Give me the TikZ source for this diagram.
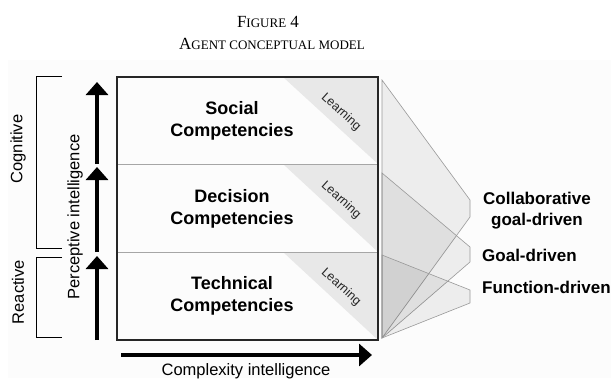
\documentclass[tikz,border=0pt]{standalone}
\usepackage{fontspec}
\setmainfont{Liberation Serif}
\setsansfont{Liberation Sans}
\usetikzlibrary{arrows.meta,positioning}

\begin{document}
\begin{tikzpicture}[x=1pt,y=-1pt,
  lbl/.style={font=\sffamily\bfseries\fontsize{18}{22}\selectfont, align=center, inner sep=0},
  lrn/.style={font=\sffamily\fontsize{12.5}{14}\selectfont, rotate=-42, text=black!85, inner sep=0},
  big/.style={line width=4pt, -{Triangle[width=22pt,length=13pt]}},
  side/.style={font=\sffamily\fontsize{16.5}{18}\selectfont, inner sep=0},
  cone/.style={draw=gray!80, line width=0.6pt, fill=black, fill opacity=0.06},
  drv/.style={font=\sffamily\bfseries\fontsize{17}{21}\selectfont, align=center, inner sep=0}]
\useasboundingbox (0,0) rectangle (611,378);
\fill[black!1.2] (8,60) rectangle (611,378);

% title
\node[font=\fontsize{17}{20}\selectfont, anchor=base] (fig) at (268,27) {F{\fontsize{13}{15}\selectfont IGURE} 4};
\node[font=\fontsize{17}{20}\selectfont, anchor=base] (ttl) at (272,49) {A{\fontsize{13}{15}\selectfont GENT CONCEPTUAL MODEL}};

% learning corners
\fill[black!9] (283,77) -- (378,77) -- (378,164) -- cycle;
\fill[black!9] (283,164) -- (378,164) -- (378,252) -- cycle;
\fill[black!9] (283,252) -- (378,252) -- (378,340) -- cycle;
\node[lrn] (l1) at (341,112) {Learning};
\node[lrn] (l2) at (341,200) {Learning};
\node[lrn] (l3) at (341,287) {Learning};

% competency bands
\draw[gray!70, line width=0.8pt] (117,164) -- (378,164) (117,252) -- (378,252);
\draw[line width=1.6pt, black!85] (117,77) rectangle (378,340);
\node[lbl] (soc) at (232,121) {Social\\Competencies};
\node[lbl] (dec) at (232,209) {Decision\\Competencies};
\node[lbl] (tec) at (232,296) {Technical\\Competencies};

% perceptive axis
\coordinate (a0) at (97,340); \coordinate (a1) at (97,256);
\coordinate (b0) at (97,252); \coordinate (b1) at (97,167);
\coordinate (c0) at (97,164); \coordinate (c1) at (97,82);
\draw[big] (a0) -- (a1);
\draw[big] (b0) -- (b1);
\draw[big] (c0) -- (c1);
\node[side, rotate=90] (perc) at (75,217) {Perceptive intelligence};

% brackets
\draw[line width=1pt] (62,76) -- (36,76) -- (36,248) -- (62,248);
\draw[line width=1pt] (62,257) -- (36,257) -- (36,337) -- (62,337);
\node[side, rotate=90] (cog) at (18,149) {Cognitive};
\node[side, rotate=90] (rea) at (18,292) {Reactive};

% complexity axis
\coordinate (h0) at (121,355); \coordinate (h1) at (372,355);
\draw[big] (h0) -- (h1);
\node[side, anchor=base] (cplx) at (246,375) {Complexity intelligence};

% behaviour cones
\coordinate (o) at (382,338);
\draw[cone] (382,80) -- (470,200) -- (470,217) -- (o) -- cycle;
\draw[cone] (382,173) -- (470,247) -- (470,262) -- (o) -- cycle;
\draw[cone] (382,255) -- (470,290) -- (470,303) -- (o) -- cycle;
\node[drv] (col) at (537,211) {Collaborative\\goal-driven};
\node[drv, anchor=west] (goal) at (482,255) {Goal-driven};
\node[drv, anchor=west] (fun) at (482,287) {Function-driven};
\end{tikzpicture}
\end{document}
